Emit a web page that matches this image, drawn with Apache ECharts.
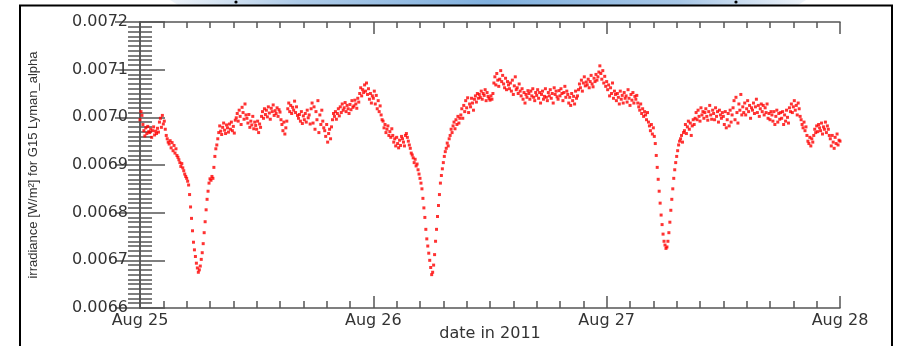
<!DOCTYPE html>
<html><head><meta charset="utf-8">
<script src="https://cdn.jsdelivr.net/npm/echarts@6/dist/echarts.min.js"></script>
<style>html,body{margin:0;padding:0;background:#fff}#c{width:899px;height:346px}</style>
</head><body><div id="c"></div>
<script>
// x tick labels (one per day, hours since Aug 25 00:00)
const dayTickHours = [0, 24, 48, 72];
const dayTickLabels = ['Aug 25', 'Aug 26', 'Aug 27', 'Aug 28'];
// y range in mW/m^2 (0.0066 .. 0.0072 W/m^2)
const yMin = 6.6, yMax = 7.2, yStep = 0.1;
// sampling: start hour and cadence of the readings below
const startHour = 0;
const cadenceHours = 0.1;
// GOES-15 Lyman-alpha irradiance, in mW/m^2, one line per hour (10 readings each)
const irradiance = [
6.995,7.012,7.004,6.985,6.972,6.961,6.978,6.966,6.981,6.970,
6.968,6.975,6.958,6.972,6.980,6.963,6.971,6.966,6.977,6.969,
6.990,6.998,6.979,7.004,6.986,6.992,6.975,6.962,6.955,6.948,
6.944,6.951,6.936,6.947,6.930,6.941,6.925,6.934,6.920,6.916,
6.911,6.905,6.897,6.903,6.894,6.888,6.881,6.876,6.872,6.866,
6.858,6.838,6.812,6.788,6.762,6.738,6.722,6.708,6.694,6.684,
6.675,6.680,6.688,6.702,6.716,6.735,6.758,6.781,6.806,6.828,
6.845,6.862,6.871,6.868,6.876,6.872,6.895,6.918,6.934,6.942,
6.955,6.968,6.982,6.971,6.964,6.979,6.988,6.973,6.966,6.984,
6.978,6.969,6.986,6.975,6.990,6.972,6.981,6.967,6.994,6.999,
7.008,6.992,7.015,7.002,6.985,7.021,7.010,6.996,7.028,7.005,
6.998,6.988,7.006,6.979,6.992,6.984,7.002,6.976,6.990,6.983,
6.975,6.992,6.968,6.986,6.979,7.002,7.012,6.998,7.018,7.006,
7.015,7.001,7.022,7.009,6.996,7.019,7.012,7.026,7.004,7.014,
7.008,7.020,7.002,7.016,7.011,6.995,6.985,6.972,6.990,6.965,
6.978,6.992,7.018,7.030,7.012,7.025,7.008,7.021,7.015,7.034,
7.010,7.022,7.004,6.998,7.006,6.992,7.012,6.987,7.003,6.995,
7.008,6.990,7.015,6.999,7.005,6.986,7.018,7.030,6.988,7.022,
6.975,7.012,6.995,7.035,6.968,7.005,6.985,7.015,6.992,6.978,
6.972,6.960,6.985,6.948,6.966,6.975,6.955,6.980,6.995,7.008,
7.002,7.012,6.996,7.008,7.018,7.003,7.022,7.010,7.028,7.015,
7.020,7.031,7.012,7.025,7.018,7.008,7.027,7.016,7.035,7.021,
7.024,7.036,7.028,7.019,7.040,7.032,7.050,7.062,7.045,7.058,
7.052,7.068,7.055,7.072,7.048,7.060,7.038,7.050,7.030,7.045,
7.040,7.055,7.028,7.046,7.018,7.035,7.012,7.024,7.005,6.995,
6.992,6.978,6.985,6.968,6.975,6.982,6.962,6.970,6.958,6.976,
6.962,6.948,6.955,6.940,6.958,6.945,6.936,6.952,6.941,6.960,
6.955,6.948,6.940,6.962,6.966,6.958,6.950,6.942,6.935,6.925,
6.921,6.915,6.905,6.912,6.898,6.902,6.890,6.881,6.872,6.862,
6.850,6.830,6.810,6.790,6.765,6.745,6.730,6.715,6.700,6.685,
6.670,6.675,6.690,6.712,6.740,6.765,6.792,6.815,6.838,6.862,
6.878,6.892,6.905,6.918,6.928,6.935,6.946,6.940,6.955,6.962,
6.975,6.968,6.982,6.990,6.976,6.995,6.985,7.002,6.988,6.998,
7.005,7.018,6.998,7.025,7.012,7.035,7.020,7.041,7.010,7.028,
7.022,7.040,7.030,7.015,7.038,7.045,7.032,7.050,7.040,7.048,
7.042,7.055,7.038,7.050,7.046,7.058,7.035,7.052,7.044,7.040,
7.036,7.045,7.038,7.050,7.072,7.085,7.068,7.092,7.078,7.065,
7.080,7.098,7.075,7.088,7.070,7.062,7.082,7.058,7.075,7.068,
7.060,7.072,7.055,7.078,7.048,7.066,7.085,7.058,7.062,7.050,
7.070,7.055,7.045,7.060,7.038,7.052,7.030,7.048,7.042,7.056,
7.050,7.038,7.055,7.045,7.060,7.042,7.035,7.052,7.046,7.058,
7.040,7.052,7.030,7.048,7.055,7.038,7.044,7.060,7.042,7.035,
7.052,7.045,7.058,7.040,7.050,7.030,7.062,7.048,7.055,7.043,
7.038,7.056,7.045,7.060,7.050,7.035,7.052,7.065,7.042,7.055,
7.048,7.030,7.042,7.025,7.050,7.035,7.044,7.028,7.055,7.040,
7.045,7.058,7.070,7.062,7.078,7.055,7.072,7.085,7.066,7.074,
7.068,7.080,7.062,7.075,7.088,7.070,7.064,7.082,7.075,7.090,
7.078,7.085,7.095,7.108,7.092,7.080,7.098,7.072,7.086,7.065,
7.075,7.058,7.068,7.045,7.062,7.050,7.072,7.040,7.055,7.048,
7.035,7.050,7.042,7.028,7.055,7.038,7.046,7.030,7.052,7.040,
7.045,7.032,7.058,7.040,7.025,7.048,7.036,7.052,7.030,7.044,
7.038,7.046,7.030,7.022,7.015,7.028,7.008,7.018,7.002,7.012,
7.005,6.995,7.010,6.990,6.982,6.972,6.985,6.965,6.978,6.960,
6.945,6.920,6.895,6.870,6.845,6.820,6.795,6.775,6.755,6.740,
6.732,6.725,6.728,6.740,6.758,6.780,6.805,6.828,6.850,6.872,
6.890,6.905,6.918,6.930,6.942,6.950,6.955,6.962,6.948,6.968,
6.972,6.985,6.966,6.980,6.992,6.975,6.988,6.962,6.982,6.995,
6.985,6.998,7.010,6.995,7.015,7.002,6.992,7.020,7.005,7.012,
6.998,7.010,7.018,7.002,6.994,7.012,7.025,7.005,6.996,7.015,
7.008,6.995,7.020,7.002,7.012,6.990,7.015,7.005,6.998,7.010,
7.002,6.985,7.012,6.978,6.995,7.008,6.982,7.015,6.990,7.005,
7.020,7.035,6.995,7.042,7.010,6.988,7.028,7.015,7.048,7.005,
7.022,7.010,7.030,7.005,7.018,7.035,7.012,7.025,6.998,7.020,
7.015,7.030,7.008,7.022,7.038,7.010,7.025,7.002,7.018,7.028,
7.012,7.025,7.005,7.020,7.010,7.028,6.998,7.008,6.995,7.012,
7.005,6.992,7.012,6.985,7.002,7.015,6.990,7.008,6.996,7.010,
6.998,7.012,6.985,7.005,6.992,7.015,7.000,6.988,7.020,7.012,
7.028,7.010,7.022,7.035,7.015,7.025,7.005,7.030,7.018,7.002,
6.995,6.985,6.978,6.990,6.972,6.980,6.962,6.950,6.945,6.958,
6.940,6.955,6.948,6.962,6.975,6.968,6.982,6.970,6.985,6.978,
6.972,6.988,6.965,6.980,6.975,6.990,6.968,6.982,6.975,6.962,
6.955,6.940,6.962,6.948,6.935,6.958,6.945,6.965,6.942,6.952,
6.950
];

const points = irradiance.map((v, i) => [startHour + i * cadenceHours, v]);
const dayLabel = v => { const k = dayTickHours.indexOf(Math.round(v)); return k >= 0 ? dayTickLabels[k] : ''; };
const yLabel = v => (v / 1000).toFixed(4);

const axisCol = '#555';
const tickFont = { fontFamily: 'DejaVu Sans', fontSize: 16, color: '#333' };

const chart = echarts.init(document.getElementById('c'), null, { renderer: 'canvas' });
const xCommon = {
  type: 'value', min: 0, max: 72, interval: 24,
  axisLine: { show: true, lineStyle: { color: axisCol, width: 1.5 } },
  splitLine: { show: false },
  minorSplitLine: { show: false }
};
const yCommon = {
  type: 'value', min: yMin, max: yMax, interval: yStep,
  axisLine: { show: true, lineStyle: { color: axisCol, width: 1.5 } },
  splitLine: { show: false },
  minorSplitLine: { show: false }
};
chart.setOption({
  animation: false,
  backgroundColor: '#fff',
  grid: { left: 140, right: 59, top: 22, bottom: 38, containLabel: false, outerBoundsMode: 'none' },
  xAxis: [
    Object.assign({}, xCommon, {
      position: 'bottom',
      axisTick: { show: true, inside: true, length: 12, lineStyle: { color: axisCol, width: 1.5 } },
      minorTick: { show: true, splitNumber: 10, length: 7, lineStyle: { color: axisCol, width: 1.5 } },
      axisLabel: Object.assign({ show: true, margin: 5, formatter: dayLabel, showMinLabel: true, showMaxLabel: true }, tickFont),
      name: 'date in 2011', nameLocation: 'middle', nameGap: 18, nameMoveOverlap: false,
      nameTextStyle: { fontFamily: 'DejaVu Sans', fontSize: 16, color: '#333', verticalAlign: 'top' }
    }),
    Object.assign({}, xCommon, {
      position: 'top',
      axisTick: { show: true, inside: true, length: 12, lineStyle: { color: axisCol, width: 1.5 } },
      minorTick: { show: true, splitNumber: 10, length: 6, lineStyle: { color: axisCol, width: 1.5 } },
      axisLabel: { show: false }
    })
  ],
  yAxis: [
    Object.assign({}, yCommon, {
      position: 'left',
      axisTick: { show: true, inside: true, length: 25, lineStyle: { color: axisCol, width: 1.5 } },
      minorTick: { show: true, splitNumber: 10, length: 12, lineStyle: { color: axisCol, width: 1.5 } },
      axisLabel: Object.assign({ show: true, margin: 12, formatter: yLabel }, tickFont),
      name: 'irradiance [W/m²] for G15 Lyman_alpha', nameLocation: 'middle', nameGap: 100, nameRotate: 90,
      nameTextStyle: { fontFamily: 'Liberation Sans', fontSize: 13, color: '#333' }
    }),
    Object.assign({}, yCommon, {
      position: 'right',
      axisTick: { show: true, inside: true, length: 25, lineStyle: { color: axisCol, width: 1.5 } },
      minorTick: { show: true, splitNumber: 10, length: 12, lineStyle: { color: axisCol, width: 1.5 } },
      axisLabel: { show: false }
    })
  ],
  series: [{
    type: 'scatter', xAxisIndex: 0, yAxisIndex: 0,
    symbol: 'rect', symbolSize: 3,
    itemStyle: { color: '#ff0000' },
    data: points,
    silent: true
  }],
  graphic: [
    {
      type: 'polygon', z: 1,
      shape: { points: [[170, 0], [806, 0], [798, 5], [178, 5]] },
      style: {
        fill: new echarts.graphic.LinearGradient(0, 0, 1, 0, [
          { offset: 0, color: '#eef3f9' },
          { offset: 0.2, color: '#aecbe8' },
          { offset: 0.5, color: '#80b0de' },
          { offset: 0.8, color: '#a6c6e6' },
          { offset: 1, color: '#eef3f9' }
        ])
      }
    },
    { type: 'circle', z: 2, shape: { cx: 236, cy: 2, r: 1.6 }, style: { fill: '#000' } },
    { type: 'circle', z: 2, shape: { cx: 736, cy: 2, r: 1.6 }, style: { fill: '#000' } },
    {
      type: 'rect', z: 3,
      shape: { x: 20, y: 5.5, width: 872, height: 360 },
      style: { fill: 'none', stroke: '#000', lineWidth: 2 }
    }
  ]
});
</script>
</body></html>
